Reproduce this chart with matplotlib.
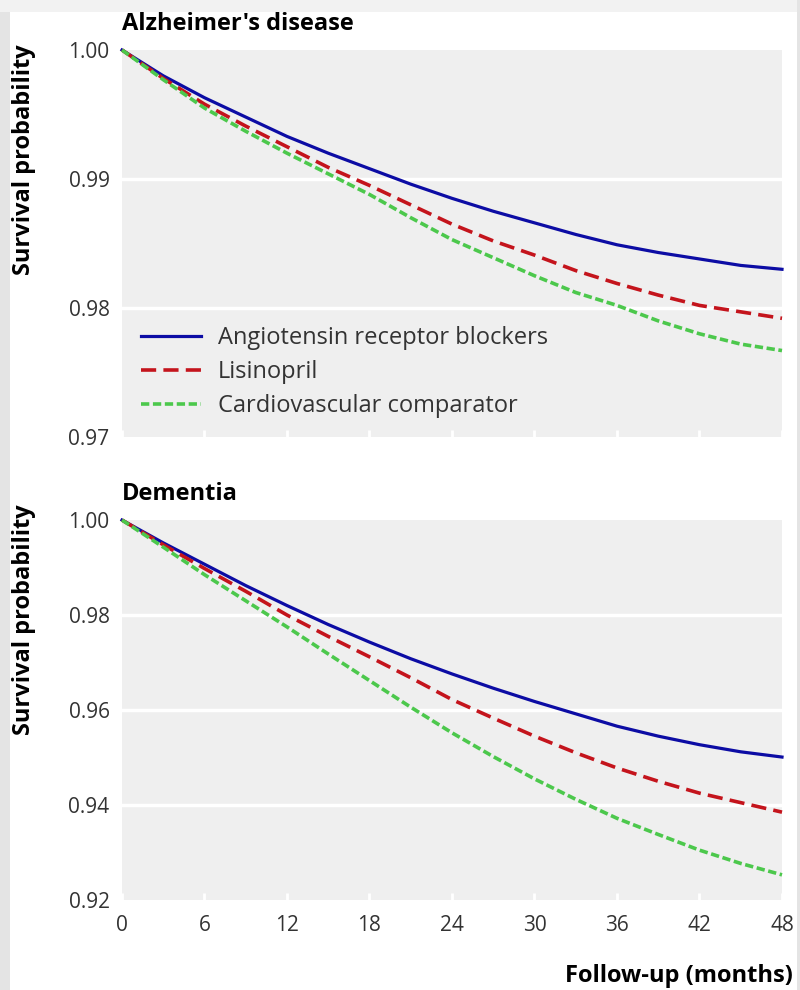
import matplotlib
matplotlib.use('Agg')
import matplotlib.pyplot as plt
from matplotlib.patches import Rectangle

# follow-up months
months = [0, 3, 6, 9, 12, 15, 18, 21, 24, 27, 30, 33, 36, 39, 42, 45, 48]

# Alzheimer's disease
alz_arb = [1.0, 0.9980, 0.9963, 0.9948, 0.9933, 0.9920, 0.9908, 0.9896, 0.9885,
           0.9875, 0.9866, 0.9857, 0.9849, 0.9843, 0.9838, 0.9833, 0.9830]
alz_lis = [1.0, 0.9978, 0.9958, 0.9941, 0.9925, 0.9909, 0.9895, 0.9880, 0.9865,
           0.9852, 0.9841, 0.9829, 0.9819, 0.9810, 0.9802, 0.9797, 0.9792]
alz_cvd = [1.0, 0.9977, 0.9955, 0.9937, 0.9920, 0.9904, 0.9888, 0.9870, 0.9853,
           0.9839, 0.9825, 0.9812, 0.9802, 0.9790, 0.9780, 0.9772, 0.9767]

# Dementia
dem_arb = [1.0, 0.9952, 0.9907, 0.9862, 0.9820, 0.9780, 0.9743, 0.9708, 0.9676,
           0.9646, 0.9618, 0.9592, 0.9566, 0.9545, 0.9527, 0.9512, 0.9501]
dem_lis = [1.0, 0.9948, 0.9898, 0.9850, 0.9800, 0.9755, 0.9712, 0.9668, 0.9622,
           0.9583, 0.9545, 0.9510, 0.9478, 0.9450, 0.9425, 0.9405, 0.9385]
dem_cvd = [1.0, 0.9943, 0.9885, 0.9830, 0.9775, 0.9718, 0.9662, 0.9606, 0.9552,
           0.9502, 0.9455, 0.9412, 0.9372, 0.9338, 0.9305, 0.9277, 0.9253]

labels = ["Angiotensin receptor blockers", "Lisinopril", "Cardiovascular comparator"]
xticks = [0, 6, 12, 18, 24, 30, 36, 42, 48]
alz_yticks = [0.97, 0.98, 0.99, 1.00]
dem_yticks = [0.92, 0.94, 0.96, 0.98, 1.00]

plt.rcParams['font.family'] = ['Open Sans', 'DejaVu Sans']

fig = plt.figure(figsize=(8, 9.9), dpi=100, facecolor='white')
# grey frame round the picture
fig.patches.append(Rectangle((0, 0), 10/800, 1, transform=fig.transFigure,
                             facecolor='#e4e4e4', edgecolor='none'))
fig.patches.append(Rectangle((0, 978/990), 1, 12/990, transform=fig.transFigure,
                             facecolor='#f2f2f2', edgecolor='none'))
fig.patches.append(Rectangle((797/800, 0), 3/800, 1, transform=fig.transFigure,
                             facecolor='#e4e4e4', edgecolor='none'))

ax1 = fig.add_axes([0.1525, 0.5586, 0.825, 0.3909])
ax2 = fig.add_axes([0.1525, 0.0909, 0.825, 0.3838])

styles = [dict(color='#0c0ca4', lw=2.3, ls='-'),
          dict(color='#c4141c', lw=2.6, ls=(0, (4.2, 2.0))),
          dict(color='#4cc84c', lw=2.6, ls=(0, (2.3, 1.0)))]

for ax, series, yt, title, ytitle in [
        (ax1, [alz_arb, alz_lis, alz_cvd], alz_yticks, "Alzheimer's disease", 0.716),
        (ax2, [dem_arb, dem_lis, dem_cvd], dem_yticks, "Dementia", 0.737)]:
    ax.set_facecolor('#efefef')
    for s, lab, st in zip(series, labels, styles):
        ax.plot(months, s, label=lab, clip_on=False, zorder=3, **st)
    ax.set_xlim(0, 48)
    ax.set_ylim(yt[0], yt[-1])
    ax.set_xticks(xticks)
    ax.set_yticks(yt)
    ax.set_yticklabels(['%.2f' % v for v in yt])
    for v in yt[1:-1]:
        ax.axhline(v, color='white', lw=2.5, zorder=1)
    for sp in ax.spines.values():
        sp.set_visible(False)
    ax.tick_params(axis='y', length=0, pad=9, labelsize=15, labelcolor='#333333')
    ax.tick_params(axis='x', direction='in', length=5, width=2, color='white',
                   pad=11, labelsize=15, labelcolor='#333333')
    ax.set_ylabel('Survival probability', fontsize=17, fontweight='bold')
    ax.yaxis.set_label_coords(-0.13, ytitle)
    ax.text(0, 1.052, title, transform=ax.transAxes, fontsize=17, fontweight='bold',
            ha='left', va='baseline')

ax1.set_xticklabels([])
ax1.legend(loc='lower left', bbox_to_anchor=(-0.004, -0.006), frameon=False, fontsize=17,
           handlelength=2.55, handletextpad=0.72, labelspacing=0.42, labelcolor='#333333')

fig.text(793/800, 1 - 976/990, 'Follow-up (months)', ha='right', va='center',
         fontsize=17, fontweight='bold')

plt.savefig('out.png', dpi=100, facecolor=fig.get_facecolor())
